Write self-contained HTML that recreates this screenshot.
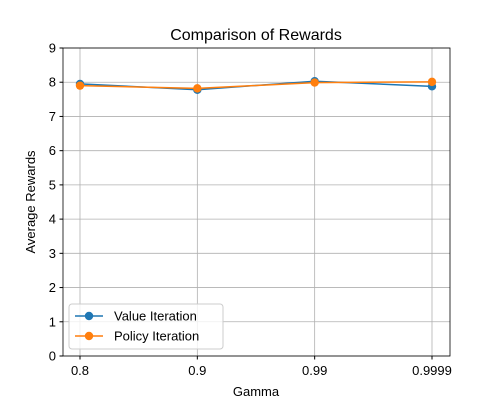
<!DOCTYPE html>
<html><head><meta charset="utf-8"><style>
body{margin:0;background:#fff;font-family:"Liberation Sans","DejaVu Sans",sans-serif;}
</style></head><body>
<svg id="chart" width="500" height="400" xmlns="http://www.w3.org/2000/svg" font-family="Liberation Sans, DejaVu Sans, sans-serif">
<g id="grid"></g>
<g id="axes"></g>
<g id="series"></g>
<text x="256" y="40" text-anchor="middle" font-size="16">Comparison of Rewards</text>
<text x="256" y="396" text-anchor="middle" font-size="13">Gamma</text>
<text x="35" y="202" text-anchor="middle" font-size="13" transform="rotate(-90 35 202)">Average Rewards</text>
<g>
<rect x="69" y="304" width="154" height="45" fill="#fff" fill-opacity="0.8" stroke="#ccc" rx="3"/>
<g>
<line x1="75" y1="316" x2="103" y2="316" stroke="#1f77b4" stroke-width="1.5"/><circle cx="89" cy="316" r="4.2" fill="#1f77b4"/>
<text x="114" y="320.5" font-size="13">Value Iteration</text></g>
<g>
<line x1="75" y1="336" x2="103" y2="336" stroke="#ff7f0e" stroke-width="1.5"/><circle cx="89" cy="336" r="4.2" fill="#ff7f0e"/>
<text x="114" y="340.5" font-size="13">Policy Iteration</text></g>
</g>
</svg>
<script>
const categories=["0.8","0.9","0.99","0.9999"];
const valueIteration=[7.95,7.78,8.03,7.88];
const policyIteration=[7.9,7.82,7.99,8.01];
const yTicks=[0,1,2,3,4,5,6,7,8,9];
const NS="http://www.w3.org/2000/svg";
const L=63,R=450,T=48,B=356;
const xs=i=>80+i*(432-80)/(categories.length-1);
const ys=v=>B-(v-0)/(9-0)*(B-T);
function mk(p,t,a){const e=document.createElementNS(NS,t);for(const k in a)e.setAttribute(k,a[k]);p.appendChild(e);return e;}
const grid=document.getElementById('grid'),axes=document.getElementById('axes'),series=document.getElementById('series');
yTicks.forEach(v=>{const y=ys(v);
const g=mk(grid,'line',{x1:L,x2:R,y1:y,y2:y,stroke:'#b0b0b0','stroke-width':0.8});


mk(axes,'line',{x1:L-3.5,x2:L,y1:y,y2:y,stroke:'#000'});
const t=mk(axes,'text',{x:L-7,y:y+4.5,'text-anchor':'end','font-size':13});t.textContent=v;

});
categories.forEach((c,i)=>{const x=xs(i);
const g=mk(grid,'line',{x1:x,x2:x,y1:T,y2:B,stroke:'#b0b0b0','stroke-width':0.8});


mk(axes,'line',{x1:x,x2:x,y1:B,y2:B+3.5,stroke:'#000'});
const t=mk(axes,'text',{x:x,y:B+19,'text-anchor':'middle','font-size':13});t.textContent=c;

});
const fr=mk(axes,'rect',{x:L,y:T,width:R-L,height:B-T,fill:'none',stroke:'#000','stroke-width':0.8});


function draw(vals,col,name){
const pl=mk(series,'polyline',{points:vals.map((v,i)=>xs(i)+','+ys(v)).join(' '),fill:'none',stroke:col,'stroke-width':1.5});


vals.forEach((v,i)=>{const c=mk(series,'circle',{cx:xs(i),cy:ys(v),r:4.2,fill:col});

});}
draw(valueIteration,'#1f77b4','value-iteration');
draw(policyIteration,'#ff7f0e','policy-iteration');
</script>
</body></html>
